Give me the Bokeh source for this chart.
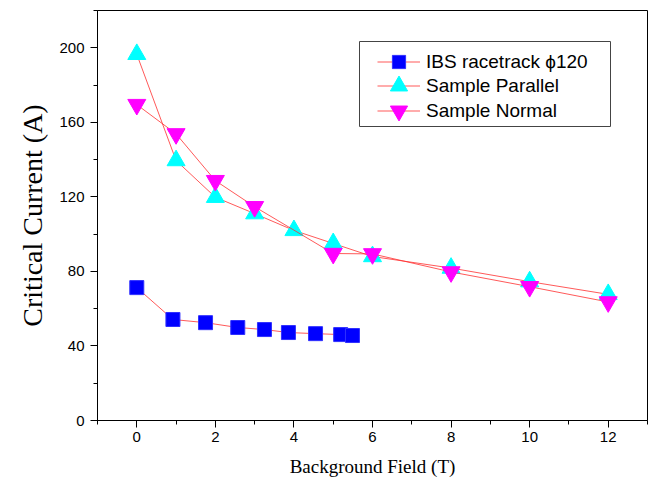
from bokeh.plotting import figure
from bokeh.models import Range1d, FixedTicker, Legend, LegendItem, BoxAnnotation
from bokeh.embed import file_html
from bokeh.resources import INLINE

# Data
ibs_field = [0, 0.92, 1.75, 2.57, 3.25, 3.86, 4.55, 5.19, 5.49]
ibs_current = [71.3, 54.2, 52.5, 49.9, 48.8, 47.2, 46.6, 46.1, 45.6]

par_field = [0, 1, 2, 3, 4, 5, 6, 8, 10, 12]
par_current = [196.5, 139.5, 119.8, 111.0, 102.0, 95.0, 88.0, 81.8, 74.5, 67.7]

norm_field = [0, 1, 2, 3, 5, 6, 8, 10, 12]
norm_current = [169.5, 153.8, 128.7, 114.7, 89.6, 89.4, 79.7, 71.8, 63.6]

series_labels = ["IBS racetrack \u03d5120", "Sample Parallel", "Sample Normal"]

x_major = [0, 2, 4, 6, 8, 10, 12]
x_minor = [-1, 1, 3, 5, 7, 9, 11, 13]
y_major = [0, 40, 80, 120, 160, 200]
y_minor = [20, 60, 100, 140, 180, 220]

p = figure(width=650, height=480, output_backend="svg", toolbar_location=None,
           x_range=Range1d(-1, 13), y_range=Range1d(0, 220),
           min_border_left=97, min_border_right=3, min_border_top=10, min_border_bottom=60)

p.grid.visible = False
p.outline_line_color = "black"
p.outline_line_width = 1
p.background_fill_color = "white"
p.border_fill_color = "white"

line_color = "#ff3030"

l1 = p.line(ibs_field, ibs_current, line_color=line_color, line_width=1, line_alpha=0.8)
s1 = p.scatter(ibs_field, ibs_current, marker="square", size=14, fill_color="#0000ff", line_color="#3030ff")

l2 = p.line(par_field, par_current, line_color=line_color, line_width=1, line_alpha=0.8)
s2 = p.scatter(par_field, par_current, marker="triangle", size=18, fill_color="#00ffff", line_color="#00ffff")

l3 = p.line(norm_field, norm_current, line_color=line_color, line_width=1, line_alpha=0.8)
s3 = p.scatter(norm_field, norm_current, marker="inverted_triangle", size=18, fill_color="#ff00ff", line_color="#ff00ff")

for ax in (p.xaxis[0], p.yaxis[0]):
    ax.axis_line_color = "black"
    ax.major_tick_line_color = "black"
    ax.minor_tick_line_color = "black"
    ax.major_tick_in = 0
    ax.major_tick_out = 7
    ax.minor_tick_in = 0
    ax.minor_tick_out = 4
    ax.major_label_text_font = "Liberation Sans"
    ax.major_label_text_font_size = "15px"
    ax.major_label_text_color = "black"
    ax.axis_label_text_font = "Liberation Serif"
    ax.axis_label_text_font_style = "normal"
    ax.axis_label_text_color = "black"

p.xaxis[0].ticker = FixedTicker(ticks=x_major, minor_ticks=x_minor)
p.yaxis[0].ticker = FixedTicker(ticks=y_major, minor_ticks=y_minor)
p.xaxis[0].axis_label = "Background Field (T)"
p.xaxis[0].axis_label_text_font_size = "19px"
p.xaxis[0].major_label_standoff = 4
p.xaxis[0].axis_label_standoff = 11
p.yaxis[0].axis_label = "Critical Current (A)"
p.yaxis[0].axis_label_text_font_size = "28px"
p.yaxis[0].major_label_standoff = 6
p.yaxis[0].axis_label_standoff = 8

# legend frame (layout, screen units relative to the plot frame)
legend_box = BoxAnnotation(left=262, right=513, top=379, bottom=294,
                           left_units="screen", right_units="screen",
                           top_units="screen", bottom_units="screen",
                           fill_color="white", fill_alpha=1,
                           line_color="#444444", line_width=1, line_alpha=1)
p.add_layout(legend_box)

# one legend per row so that marker sizes can match the reference
rows = [
    (series_labels[0], [l1, s1], 33, (280, 342)),
    (series_labels[1], [l2, s2], 45, (280, 312)),
    (series_labels[2], [l3, s3], 45, (280, 287)),
]
for label, rends, gh, loc in rows:
    leg = Legend(items=[LegendItem(label=label, renderers=rends)],
                 location=loc, margin=0, padding=0,
                 border_line_color=None, background_fill_alpha=0,
                 label_text_font="Liberation Sans", label_text_font_size="19px",
                 label_text_color="black",
                 glyph_width=43, glyph_height=gh, label_height=gh,
                 label_standoff=6, spacing=0)
    p.add_layout(leg, "center")

open("out.html", "w").write(file_html(p, INLINE))
